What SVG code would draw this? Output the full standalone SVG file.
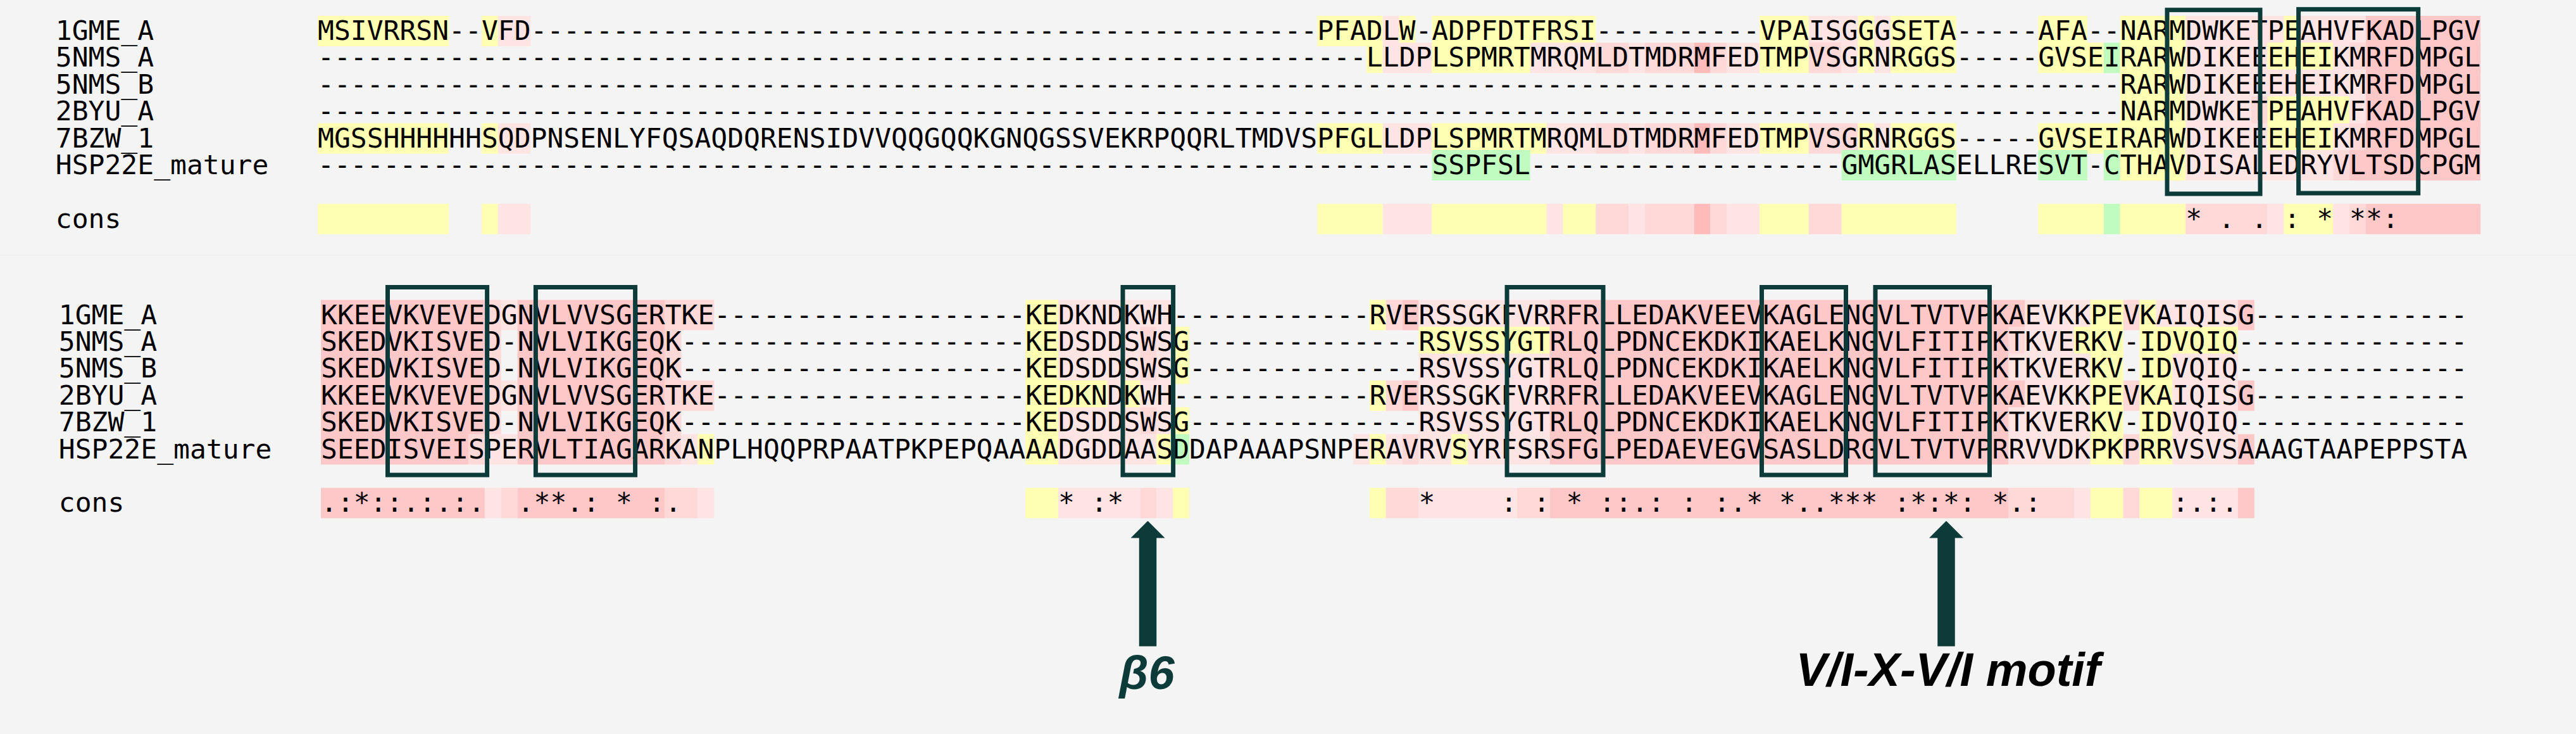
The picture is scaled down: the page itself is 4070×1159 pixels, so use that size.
<svg xmlns="http://www.w3.org/2000/svg" width="4070" height="1159" viewBox="0 0 4070 1159">
<defs>
<style>
.y{fill:#ffffb3}.g{fill:#c0fcc0}.a{fill:#ffe4e4}.b{fill:#ffd8d8}.c{fill:#ffc8c8}.d{fill:#ffbaba}
.seq{font-family:"DejaVu Sans Mono","Liberation Mono",monospace;font-size:43px;fill:#000;white-space:pre}
.box{fill:none;stroke:#0c3b39;stroke-width:7}
.arrow{fill:none;stroke:#0c3b39;stroke-width:27.5}
.lbl{font-family:"Liberation Sans",Arial,sans-serif;font-weight:bold;font-style:italic;font-size:74px;text-anchor:middle}
</style>
<marker id="head" viewBox="0 0 27 54" markerUnits="userSpaceOnUse" markerWidth="27" markerHeight="54" refX="0.5" refY="27" orient="auto">
<path d="M0,0 L27,27 L0,54 Z" fill="#0c3b39"/>
</marker>
</defs>
<rect width="4070" height="1159" fill="#f4f4f4"/>
<line x1="0" y1="403" x2="4070" y2="403" stroke="#e9e9e9" stroke-width="1"/>

<g id="top-cells" transform="matrix(25.888 0 0 1 502 0)">
<g transform="translate(0 25)">
<rect class="y" x="0" width="8" height="48"/><rect class="y" x="10" width="1" height="48"/><rect class="a" x="11" width="2" height="48"/>
<rect class="y" x="61" width="4" height="48"/><rect class="a" x="65" width="1" height="48"/><rect class="y" x="66" width="1" height="48"/><rect class="y" x="68" width="10" height="48"/>
<rect class="y" x="88" width="3" height="48"/><rect class="a" x="91" width="3" height="48"/><rect class="y" x="94" width="1" height="48"/><rect class="a" x="95" width="1" height="48"/><rect class="y" x="96" width="4" height="48"/>
<rect class="y" x="105" width="3" height="48"/><rect class="y" x="110" width="4" height="48"/><rect class="a" x="114" width="6" height="48"/><rect class="y" x="120" width="1" height="48"/><rect class="a" x="121" width="4" height="48"/><rect class="c" x="125" width="7" height="48"/>
</g>
<g transform="translate(0 67.4)">
<rect class="y" x="64" width="1" height="48"/><rect class="a" x="65" width="3" height="48"/><rect class="y" x="68" width="6" height="48"/><rect class="a" x="74" width="4" height="48"/>
<rect class="b" x="78" width="2" height="48"/><rect class="a" x="80" width="1" height="48"/><rect class="b" x="81" width="3" height="48"/><rect class="d" x="84" width="1" height="48"/><rect class="b" x="85" width="1" height="48"/><rect class="a" x="86" width="2" height="48"/>
<rect class="y" x="88" width="3" height="48"/><rect class="b" x="91" width="2" height="48"/><rect class="a" x="93" width="1" height="48"/><rect class="y" x="94" width="1" height="48"/><rect class="a" x="95" width="1" height="48"/><rect class="y" x="96" width="4" height="48"/>
<rect class="y" x="105" width="4" height="48"/><rect class="g" x="109" width="1" height="48"/><rect class="y" x="110" width="4" height="48"/><rect class="a" x="114" width="5" height="48"/><rect class="y" x="119" width="4" height="48"/><rect class="a" x="123" width="1" height="48"/><rect class="b" x="124" width="1" height="48"/><rect class="c" x="125" width="7" height="48"/>
</g>
<g transform="translate(0 109.8)">
<rect class="y" x="110" width="4" height="48"/><rect class="a" x="114" width="11" height="48"/><rect class="c" x="125" width="7" height="48"/>
</g>
<g transform="translate(0 152.2)">
<rect class="y" x="110" width="4" height="48"/><rect class="a" x="114" width="4" height="48"/><rect class="b" x="118" width="1" height="48"/><rect class="y" x="119" width="5" height="48"/><rect class="a" x="124" width="1" height="48"/><rect class="c" x="125" width="7" height="48"/>
</g>
<g transform="translate(0 194.6)">
<rect class="y" x="0" width="8" height="48"/><rect class="y" x="10" width="1" height="48"/><rect class="a" x="11" width="2" height="48"/>
<rect class="y" x="61" width="4" height="48"/><rect class="a" x="65" width="3" height="48"/><rect class="y" x="68" width="7" height="48"/><rect class="a" x="75" width="3" height="48"/>
<rect class="b" x="78" width="2" height="48"/><rect class="a" x="80" width="1" height="48"/><rect class="b" x="81" width="3" height="48"/><rect class="d" x="84" width="1" height="48"/><rect class="b" x="85" width="1" height="48"/><rect class="a" x="86" width="2" height="48"/>
<rect class="y" x="88" width="3" height="48"/><rect class="b" x="91" width="3" height="48"/><rect class="y" x="94" width="1" height="48"/><rect class="a" x="95" width="1" height="48"/><rect class="y" x="96" width="4" height="48"/>
<rect class="y" x="105" width="9" height="48"/><rect class="a" x="114" width="5" height="48"/><rect class="y" x="119" width="4" height="48"/><rect class="a" x="123" width="1" height="48"/><rect class="b" x="124" width="1" height="48"/><rect class="c" x="125" width="7" height="48"/>
</g>
<g transform="translate(0 237)">
<rect class="g" x="68" width="6" height="48"/><rect class="g" x="93" width="7" height="48"/><rect class="g" x="105" width="3" height="48"/><rect class="g" x="109" width="1" height="48"/>
<rect class="y" x="110" width="4" height="48"/><rect class="a" x="114" width="9" height="48"/><rect class="b" x="123" width="1" height="48"/><rect class="c" x="124" width="8" height="48"/>
</g>
<g transform="translate(0 321.8)">
<rect class="y" x="0" width="8" height="48"/><rect class="y" x="10" width="1" height="48"/><rect class="a" x="11" width="2" height="48"/>
<rect class="y" x="61" width="4" height="48"/><rect class="a" x="65" width="3" height="48"/><rect class="y" x="68" width="7" height="48"/><rect class="a" x="75" width="1" height="48"/><rect class="y" x="76" width="2" height="48"/>
<rect class="b" x="78" width="2" height="48"/><rect class="a" x="80" width="1" height="48"/><rect class="b" x="81" width="3" height="48"/><rect class="d" x="84" width="1" height="48"/><rect class="b" x="85" width="1" height="48"/><rect class="a" x="86" width="2" height="48"/>
<rect class="y" x="88" width="3" height="48"/><rect class="b" x="91" width="2" height="48"/><rect class="y" x="93" width="7" height="48"/>
<rect class="y" x="105" width="4" height="48"/><rect class="g" x="109" width="1" height="48"/><rect class="y" x="110" width="4" height="48"/><rect class="b" x="114" width="5" height="48"/><rect class="a" x="119" width="1" height="48"/><rect class="y" x="120" width="3" height="48"/><rect class="a" x="123" width="1" height="48"/><rect class="b" x="124" width="1" height="48"/><rect class="c" x="125" width="7" height="48"/>
</g>
</g>

<g id="bottom-cells" transform="matrix(25.888 0 0 1 507 0)">
<g transform="translate(0 473.5)">
<rect class="c" x="0" width="10" height="48"/><rect class="b" x="10" width="1" height="48"/><rect class="a" x="11" width="1" height="48"/><rect class="c" x="12" width="9" height="48"/><rect class="b" x="21" width="3" height="48"/>
<rect class="y" x="43" width="2" height="48"/><rect class="a" x="45" width="7" height="48"/>
<rect class="y" x="64" width="1" height="48"/><rect class="b" x="65" width="1" height="48"/><rect class="c" x="66" width="1" height="48"/><rect class="a" x="67" width="8" height="48"/><rect class="c" x="75" width="29" height="48"/>
<rect class="a" x="104" width="4" height="48"/><rect class="y" x="108" width="2" height="48"/><rect class="b" x="110" width="1" height="48"/><rect class="y" x="111" width="1" height="48"/><rect class="a" x="112" width="5" height="48"/><rect class="c" x="117" width="1" height="48"/>
</g>
<g transform="translate(0 515.9)">
<rect class="c" x="0" width="10" height="48"/><rect class="b" x="10" width="1" height="48"/><rect class="c" x="12" width="9" height="48"/><rect class="b" x="21" width="1" height="48"/>
<rect class="y" x="43" width="2" height="48"/><rect class="a" x="45" width="5" height="48"/><rect class="b" x="50" width="1" height="48"/><rect class="a" x="51" width="1" height="48"/><rect class="y" x="52" width="1" height="48"/>
<rect class="y" x="67" width="8" height="48"/><rect class="c" x="75" width="28" height="48"/><rect class="b" x="103" width="1" height="48"/><rect class="a" x="104" width="3" height="48"/><rect class="y" x="107" width="3" height="48"/><rect class="y" x="111" width="6" height="48"/>
</g>
<g transform="translate(0 558.3)">
<rect class="c" x="0" width="10" height="48"/><rect class="b" x="10" width="1" height="48"/><rect class="c" x="12" width="9" height="48"/><rect class="b" x="21" width="1" height="48"/>
<rect class="y" x="43" width="2" height="48"/><rect class="a" x="45" width="5" height="48"/><rect class="b" x="50" width="1" height="48"/><rect class="a" x="51" width="1" height="48"/><rect class="y" x="52" width="1" height="48"/>
<rect class="a" x="67" width="8" height="48"/><rect class="c" x="75" width="28" height="48"/><rect class="a" x="103" width="5" height="48"/><rect class="y" x="108" width="2" height="48"/><rect class="y" x="111" width="2" height="48"/><rect class="a" x="113" width="4" height="48"/>
</g>
<g transform="translate(0 600.7)">
<rect class="c" x="0" width="10" height="48"/><rect class="b" x="10" width="1" height="48"/><rect class="a" x="11" width="1" height="48"/><rect class="c" x="12" width="9" height="48"/><rect class="b" x="21" width="3" height="48"/>
<rect class="y" x="43" width="5" height="48"/><rect class="a" x="48" width="1" height="48"/><rect class="y" x="49" width="1" height="48"/><rect class="a" x="50" width="2" height="48"/>
<rect class="y" x="64" width="1" height="48"/><rect class="b" x="65" width="1" height="48"/><rect class="c" x="66" width="1" height="48"/><rect class="a" x="67" width="8" height="48"/><rect class="c" x="75" width="29" height="48"/>
<rect class="a" x="104" width="4" height="48"/><rect class="y" x="108" width="2" height="48"/><rect class="b" x="110" width="1" height="48"/><rect class="y" x="111" width="2" height="48"/><rect class="a" x="113" width="4" height="48"/><rect class="c" x="117" width="1" height="48"/>
</g>
<g transform="translate(0 643.1)">
<rect class="c" x="0" width="10" height="48"/><rect class="b" x="10" width="1" height="48"/><rect class="c" x="12" width="9" height="48"/><rect class="b" x="21" width="1" height="48"/>
<rect class="y" x="43" width="2" height="48"/><rect class="a" x="45" width="5" height="48"/><rect class="b" x="50" width="1" height="48"/><rect class="a" x="51" width="1" height="48"/><rect class="y" x="52" width="1" height="48"/>
<rect class="a" x="67" width="8" height="48"/><rect class="c" x="75" width="28" height="48"/><rect class="a" x="103" width="5" height="48"/><rect class="y" x="108" width="2" height="48"/><rect class="y" x="111" width="2" height="48"/><rect class="a" x="113" width="4" height="48"/>
</g>
<g transform="translate(0 685.5)">
<rect class="c" x="0" width="9" height="48"/><rect class="b" x="9" width="1" height="48"/><rect class="a" x="10" width="2" height="48"/><rect class="c" x="12" width="9" height="48"/><rect class="b" x="21" width="1" height="48"/><rect class="a" x="22" width="1" height="48"/><rect class="y" x="23" width="1" height="48"/>
<rect class="y" x="43" width="2" height="48"/><rect class="a" x="45" width="6" height="48"/><rect class="y" x="51" width="1" height="48"/><rect class="g" x="52" width="1" height="48"/>
<rect class="a" x="63" width="1" height="48"/><rect class="y" x="64" width="1" height="48"/><rect class="a" x="65" width="1" height="48"/><rect class="b" x="66" width="1" height="48"/><rect class="a" x="67" width="2" height="48"/><rect class="y" x="69" width="1" height="48"/><rect class="a" x="70" width="5" height="48"/>
<rect class="c" x="75" width="28" height="48"/><rect class="a" x="103" width="5" height="48"/><rect class="y" x="108" width="2" height="48"/><rect class="b" x="110" width="1" height="48"/><rect class="y" x="111" width="2" height="48"/><rect class="a" x="113" width="4" height="48"/><rect class="c" x="117" width="1" height="48"/>
</g>
<g transform="translate(0 770.3)">
<rect class="c" x="0" width="10" height="48"/><rect class="a" x="10" width="1" height="48"/><rect class="b" x="11" width="1" height="48"/><rect class="c" x="12" width="9" height="48"/><rect class="b" x="21" width="2" height="48"/><rect class="a" x="23" width="1" height="48"/>
<rect class="y" x="43" width="2" height="48"/><rect class="a" x="45" width="5" height="48"/><rect class="b" x="50" width="1" height="48"/><rect class="a" x="51" width="1" height="48"/><rect class="y" x="52" width="1" height="48"/>
<rect class="y" x="64" width="1" height="48"/><rect class="b" x="65" width="2" height="48"/><rect class="a" x="67" width="6" height="48"/><rect class="b" x="73" width="2" height="48"/><rect class="c" x="75" width="28" height="48"/>
<rect class="b" x="103" width="4" height="48"/><rect class="a" x="107" width="1" height="48"/><rect class="y" x="108" width="2" height="48"/><rect class="b" x="110" width="1" height="48"/><rect class="y" x="111" width="2" height="48"/><rect class="a" x="113" width="4" height="48"/><rect class="c" x="117" width="1" height="48"/>
</g>
</g>

<g id="top-block" class="seq" xml:space="preserve">
<text x="87.8" y="63">1GME_A</text>
<text x="87.8" y="105.4">5NMS_A</text>
<text x="87.8" y="147.8">5NMS_B</text>
<text x="87.8" y="190.2">2BYU_A</text>
<text x="87.8" y="232.6">7BZW_1</text>
<text x="87.8" y="275">HSP22E_mature</text>
<text x="87.8" y="359.8">cons</text>
<text x="502" y="63">MSIVRRSN--VFD<tspan x="838.54">------------------------------------------------</tspan><tspan x="2081.17">PFADLW-ADPFDTFRSI</tspan><tspan x="2521.26">----------</tspan><tspan x="2780.14">VPAISGGGSETA</tspan><tspan x="3090.8">-----</tspan><tspan x="3220.24">AFA--NARMDWKETPEAHVFKADLPGV</tspan></text>
<text x="502" y="105.4">----------------------------------------------------------------<tspan x="2158.83">LLDPLSPMRTMRQMLDTMDRMFEDTMPVSGRNRGGS</tspan><tspan x="3090.8">-----</tspan><tspan x="3220.24">GVSEIRARWDIKEEEHEIKMRFDMPGL</tspan></text>
<text x="502" y="147.8">--------------------------------------------------------------------------------------------------------------<tspan x="3349.68">RARWDIKEEEHEIKMRFDMPGL</tspan></text>
<text x="502" y="190.2">--------------------------------------------------------------------------------------------------------------<tspan x="3349.68">NARMDWKETPEAHVFKADLPGV</tspan></text>
<text x="502" y="232.6">MGSSHHHHHHSQDPNSENLYFQSAQDQRENSIDVVQQGQQKGNQGSSVEKRPQQRLTMDVS<tspan x="2081.17">PFGLLDPLSPMRTMRQMLDTMDRMFEDTMPVSGRNRGGS</tspan><tspan x="3090.8">-----</tspan><tspan x="3220.24">GVSEIRARWDIKEEEHEIKMRFDMPGL</tspan></text>
<text x="502" y="275">--------------------------------------------------------------------<tspan x="2262.38">SSPFSL</tspan><tspan x="2417.71">-------------------</tspan><tspan x="2909.58">GMGRLASELLRESVT-CTHAVDISALEDRYVLTSDCPGM</tspan></text>
<text x="3453.23" y="359.8">* .   .   :  * **:</text>
</g>

<g id="bottom-block" class="seq" xml:space="preserve">
<text x="92.8" y="511.5">1GME_A</text>
<text x="92.8" y="553.9">5NMS_A</text>
<text x="92.8" y="596.3">5NMS_B</text>
<text x="92.8" y="638.7">2BYU_A</text>
<text x="92.8" y="681.1">7BZW_1</text>
<text x="92.8" y="723.5">HSP22E_mature</text>
<text x="92.8" y="808.3">cons</text>
<text x="507" y="511.5">KKEEVKVEVEDGNVLVVSGERTKE<tspan x="1128.31">-------------------</tspan><tspan x="1620.18">KEDKNDKWH</tspan><tspan x="1853.18">------------</tspan><tspan x="2163.83">RVERSSGKFVRRFRLLEDAKVEEVKAGLENGVLTVTVPKAEVKKPEVKAIQISG</tspan><tspan x="3561.78">-------------</tspan></text>
<text x="507" y="553.9">SKEDVKISVED-NVLVIKGEQK<tspan x="1076.54">---------------------</tspan><tspan x="1620.18">KEDSDDSWSG</tspan><tspan x="1879.06">--------------</tspan><tspan x="2241.5">RSVSSYGTRLQLPDNCEKDKIKAELKNGVLFITIPKTKVERKV-IDVQIQ</tspan><tspan x="3535.9">--------------</tspan></text>
<text x="507" y="596.3">SKEDVKISVED-NVLVIKGEQK<tspan x="1076.54">---------------------</tspan><tspan x="1620.18">KEDSDDSWSG</tspan><tspan x="1879.06">--------------</tspan><tspan x="2241.5">RSVSSYGTRLQLPDNCEKDKIKAELKNGVLFITIPKTKVERKV-IDVQIQ</tspan><tspan x="3535.9">--------------</tspan></text>
<text x="507" y="638.7">KKEEVKVEVEDGNVLVVSGERTKE<tspan x="1128.31">-------------------</tspan><tspan x="1620.18">KEDKNDKWH</tspan><tspan x="1853.18">------------</tspan><tspan x="2163.83">RVERSSGKFVRRFRLLEDAKVEEVKAGLENGVLTVTVPKAEVKKPEVKAIQISG</tspan><tspan x="3561.78">-------------</tspan></text>
<text x="507" y="681.1">SKEDVKISVED-NVLVIKGEQK<tspan x="1076.54">---------------------</tspan><tspan x="1620.18">KEDSDDSWSG</tspan><tspan x="1879.06">--------------</tspan><tspan x="2241.5">RSVSSYGTRLQLPDNCEKDKIKAELKNGVLFITIPKTKVERKV-IDVQIQ</tspan><tspan x="3535.9">--------------</tspan></text>
<text x="507" y="723.5">SEEDISVEISPERVLTIAGARKANPLHQQPRPAATPKPEPQAAAADGDDAASDDAPAAAPSNPE<tspan x="2163.83">RAVRVSYRFSRSFGLPEDAEVEGVSASLDRGVLTVTVPRRVVDKPKPRRVSVSAAAGTAAPEPPSTA</tspan></text>
<text x="507" y="808.3">.:*::.:.:.</text>
<text x="817.66" y="808.3">.**.: * :.</text>
<text x="1671.96" y="808.3">* :*</text>
<text x="2241.5" y="808.3">*</text>
<text x="2370.94" y="808.3">:   : * ::.: : :.* *..*** :*:*:  *.:</text>
<text x="3432.34" y="808.3">:.:.</text>
</g>

<g id="boxes">
<rect id="box-top-1" class="box" x="3424" y="15.7" width="147" height="290.3"/>
<rect id="box-top-2" class="box" x="3631.6" y="14.7" width="189.1" height="290.3"/>
<rect id="box-bot-1" class="box" x="612.5" y="453.5" width="157.1" height="296.5"/>
<rect id="box-bot-2" class="box" x="846.4" y="453.5" width="157.2" height="296.5"/>
<rect id="box-bot-3" class="box" x="1774" y="453.5" width="79.6" height="296.5"/>
<rect id="box-bot-4" class="box" x="2381" y="453.5" width="152" height="296.5"/>
<rect id="box-bot-5" class="box" x="2783.5" y="453.5" width="133" height="296.5"/>
<rect id="box-bot-6" class="box" x="2963" y="453.5" width="180.5" height="296.5"/>
</g>

<g id="connectors">
<line class="arrow" x1="1813.5" y1="1020.5" x2="1813.5" y2="849" marker-end="url(#head)"/>
<line class="arrow" x1="3075" y1="1020.5" x2="3075" y2="849" marker-end="url(#head)"/>
</g>

<g id="label-beta6"><text class="lbl" x="1812" y="1088" fill="#0c3b39">β6</text></g>
<g id="label-motif"><text class="lbl" x="3078" y="1083" fill="#000">V/I-X-V/I motif</text></g>
</svg>
